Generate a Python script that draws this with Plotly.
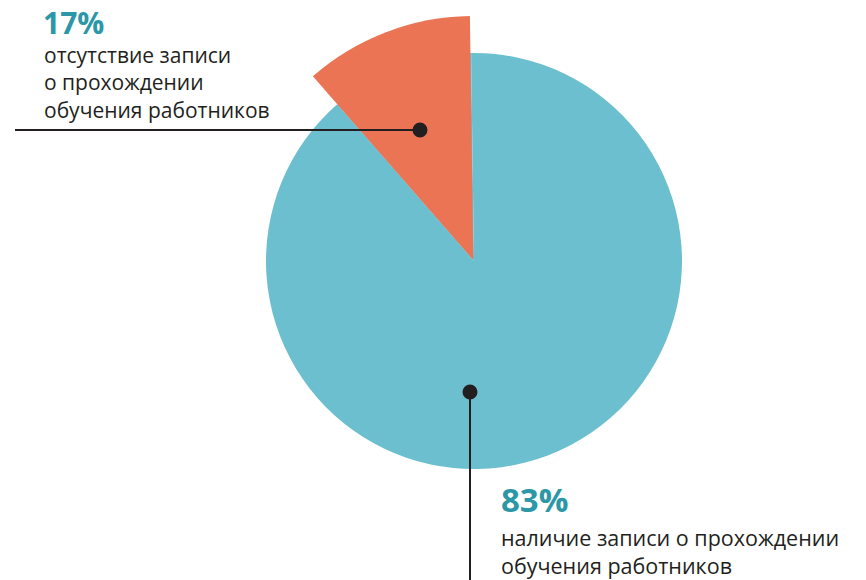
import plotly.graph_objects as go

# ---- data ----
categories = ["наличие записи о прохождении<br>обучения работников",
              "отсутствие записи<br>о прохождении<br>обучения работников"]
percent_labels = ["83%", "17%"]
# angular shares of the slices as drawn in the picture (blue, orange)
slice_shares = [88.8, 11.2]

BLUE = "#6bbfcf"
ORANGE = "#eb7455"
TEAL = "#2b97a7"
DARK = "#231f20"
W, H = 866, 580


def px(x):
    return x / W


def py(y):
    return 1 - y / H


fig = go.Figure()

# base disc (blue)
cx, cy, r = 474, 261, 208
fig.add_trace(go.Pie(
    values=slice_shares, labels=["a", "b"], sort=False,
    direction="counterclockwise", rotation=-0.8,
    marker=dict(colors=[BLUE, BLUE], line=dict(width=0)),
    textinfo="none", hoverinfo="skip", showlegend=False,
    domain=dict(x=[px(cx - r), px(cx + r)], y=[py(cy + r), py(cy - r)]),
))

# larger orange wedge
cx2, cy2, r2 = 473.3, 260, 244
fig.add_trace(go.Pie(
    values=slice_shares, labels=["a", "b"], sort=False,
    direction="counterclockwise", rotation=-0.8,
    marker=dict(colors=["rgba(0,0,0,0)", ORANGE], line=dict(width=0)),
    textinfo="none", hoverinfo="skip", showlegend=False,
    domain=dict(x=[px(cx2 - r2), px(cx2 + r2)], y=[py(cy2 + r2), py(cy2 - r2)]),
))

# callout leader lines with dots
shapes = []
line_style = dict(color=DARK, width=2)
shapes.append(dict(type="line", xref="paper", yref="paper", layer="above",
                   x0=px(15), x1=px(420), y0=py(130), y1=py(130), line=line_style))
shapes.append(dict(type="line", xref="paper", yref="paper", layer="above",
                   x0=px(470), x1=px(470), y0=py(392), y1=py(585), line=line_style))
for (dx, dy) in [(420, 130), (470, 392)]:
    shapes.append(dict(type="circle", xref="paper", yref="paper", layer="above",
                       x0=px(dx - 7.5), x1=px(dx + 7.5), y0=py(dy + 7.5), y1=py(dy - 7.5),
                       fillcolor=DARK, line=dict(width=0)))

annotations = []


def add_text(text, x, y, size, color, anchor, bold=False):
    t = f"<b>{text}</b>" if bold else text
    annotations.append(dict(x=px(x), y=py(y), text=t, xref="paper", yref="paper",
                            xanchor="left", yanchor=anchor, showarrow=False, borderpad=0,
                            align="left", font=dict(size=size, color=color, family="Open Sans")))


# orange label (top-left)
add_text(percent_labels[1], 42, 1, 30, TEAL, "top", bold=True)
add_text(categories[1], 43, 40, 21, DARK, "top")

# blue label (bottom-right)
add_text(percent_labels[0], 500, 500, 33, TEAL, "middle", bold=True)
add_text(categories[0], 500, 522, 21.5, DARK, "top")

fig.update_layout(
    width=W, height=H, margin=dict(l=0, r=0, t=0, b=0),
    paper_bgcolor="white", plot_bgcolor="rgba(0,0,0,0)",
    shapes=shapes, annotations=annotations,
)

fig.write_html("out.html", config={"displayModeBar": False},
               post_script="document.body.style.margin='0';")
